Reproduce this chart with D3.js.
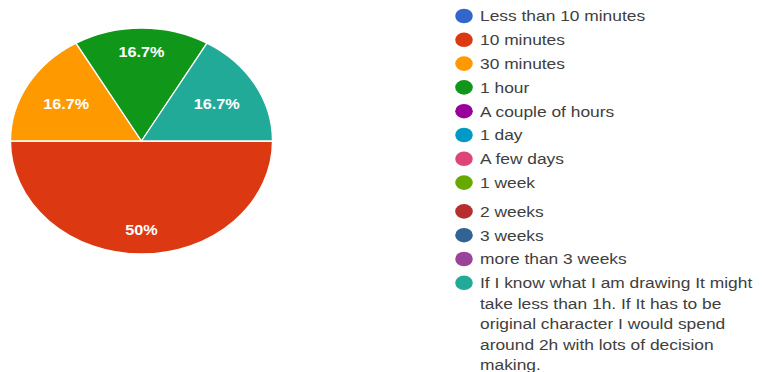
<!DOCTYPE html>
<html>
<head>
<meta charset="utf-8">
<script src="https://cdn.jsdelivr.net/npm/d3@7"></script>
<style>
  html, body { margin: 0; padding: 0; background: #fff; }
  svg { display: block; }
</style>
</head>
<body>
<svg id="chart" width="762" height="372"></svg>
<script>
const categories = [
  "Less than 10 minutes",
  "10 minutes",
  "30 minutes",
  "1 hour",
  "A couple of hours",
  "1 day",
  "A few days",
  "1 week",
  "2 weeks",
  "3 weeks",
  "more than 3 weeks",
  "If I know what I am drawing It might take less than 1h. If It has to be original character I would spend around 2h with lots of decision making."
];
const values = [0, 3, 1, 1, 0, 0, 0, 0, 0, 0, 0, 1];
const colors = [
  "#3366cc", "#dc3912", "#ff9900", "#109618", "#990099", "#0099c6",
  "#dd4477", "#66aa00", "#b82e2e", "#316395", "#994499", "#22aa99"
];

const W = 762, H = 372;
const cx = 141.5, cy = 141, r = 113, sx = 131 / 113;
const font = "'Liberation Sans', Arial, sans-serif";

const svg = d3.select("#chart");
const data = categories.map((c, i) => ({ name: c, value: values[i], color: colors[i] }));
const total = d3.sum(values);

const pie = d3.pie().value(d => d.value).sort(null)
  .startAngle(Math.PI / 2).endAngle(Math.PI / 2 + 2 * Math.PI);
const arcs = pie(data);
const arc = d3.arc().innerRadius(0).outerRadius(r);

const g = svg.append("g").attr("transform", `translate(${cx},${cy}) scale(${sx},1)`);
g.selectAll("path").data(arcs.filter(a => a.data.value > 0)).join("path")
  .attr("d", arc)
  .attr("fill", d => d.data.color)
  .attr("stroke", "#fff")
  .attr("stroke-width", 1.3)
  .attr("vector-effect", "non-scaling-stroke");

const fmt = v => {
  const p = Math.round(v / total * 1000) / 10;
  return (p % 1 === 0 ? p.toFixed(0) : p.toFixed(1)) + "%";
};

svg.append("g").selectAll("text").data(arcs.filter(a => a.data.value > 0)).join("text")
  .attr("transform", d => {
    const a = (d.startAngle + d.endAngle) / 2;
    const f = 0.785 - 0.14 * Math.abs(Math.sin(a));
    const x = cx + f * r * Math.sin(a) * sx;
    const y = cy - f * r * Math.cos(a);
    return `translate(${x},${y}) scale(${sx},1)`;
  })
  .attr("text-anchor", "middle")
  .attr("dy", "0.36em")
  .attr("fill", "#fff")
  .attr("font-family", font)
  .attr("font-size", 14)
  .attr("font-weight", "bold")
  .text(d => fmt(d.data.value));

// Legend
const legX = 464, textX = 480;
const rowY = i => 16 + 23.8 * i + (i >= 8 ? 5 : 0);
const maxW = 245, lineH = 20.5;
const leg = svg.append("g");
data.forEach((d, i) => {
  const y = rowY(i);
  leg.append("ellipse").attr("cx", legX).attr("cy", y).attr("rx", 8.8).attr("ry", 7.3)
    .attr("fill", d.color);
  const t = leg.append("text")
    .attr("transform", `translate(${textX},${y}) scale(${sx},1)`)
    .attr("font-family", font).attr("font-size", 15).attr("fill", "#404040");
  const words = d.name.split(" ");
  let line = [], ln = 0;
  let ts = t.append("tspan").attr("x", 0).attr("y", 0).attr("dy", "0.36em");
  words.forEach(w => {
    line.push(w);
    ts.text(line.join(" "));
    if (ts.node().getComputedTextLength() > maxW && line.length > 1) {
      line.pop();
      ts.text(line.join(" "));
      line = [w];
      ln++;
      ts = t.append("tspan").attr("x", 0).attr("y", ln * lineH).attr("dy", "0.36em").text(w);
    }
  });
});
</script>
</body>
</html>
